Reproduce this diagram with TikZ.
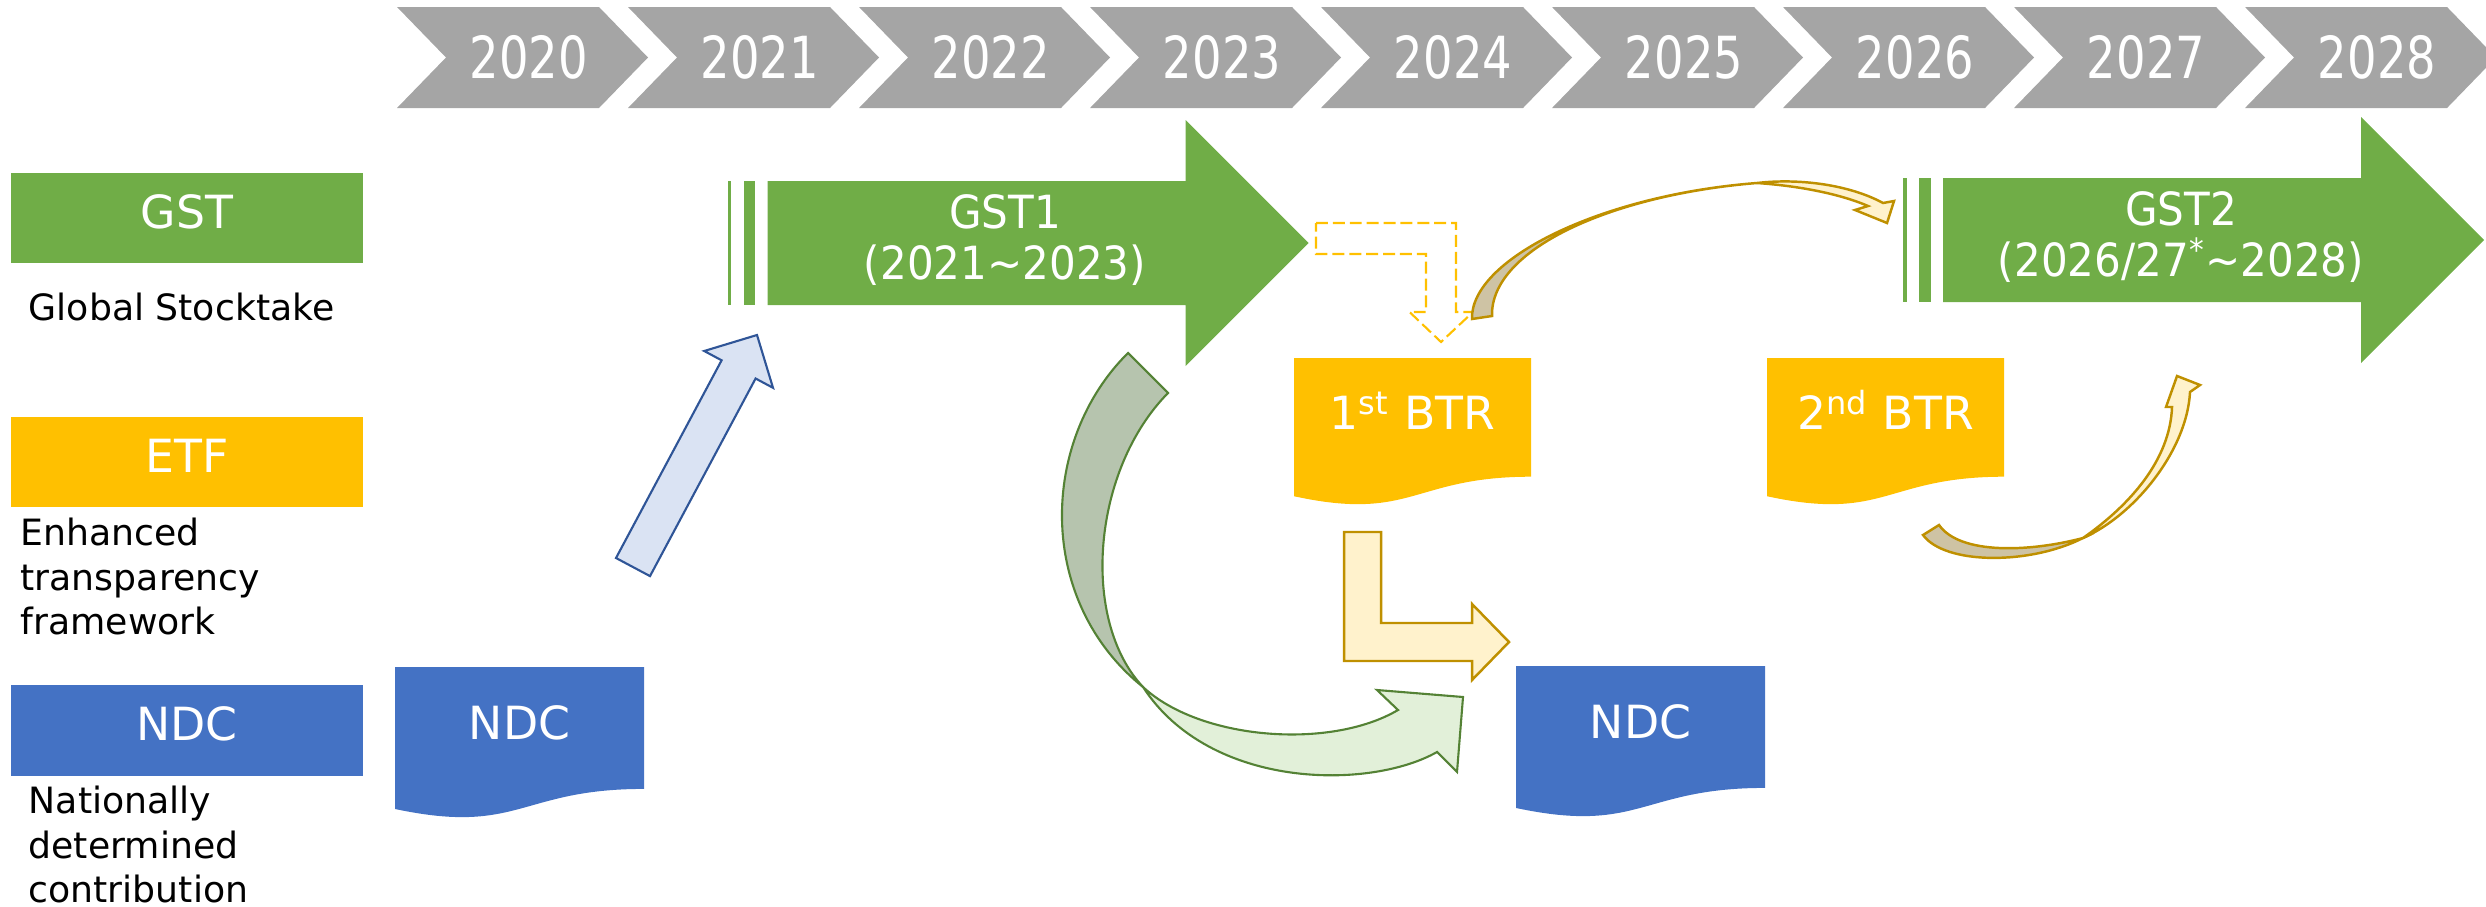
\documentclass[tikz,border=0pt]{standalone}
\usepackage{fontspec}
\setmainfont{DejaVu Sans}
\newfontfamily\yearfont[FakeStretch=0.8]{DejaVu Sans}
\newfontfamily\gstfont[FakeStretch=0.92]{DejaVu Sans}
\usetikzlibrary{calc}
\definecolor{cyear}{HTML}{A5A5A5}
\definecolor{cgst}{HTML}{70AD47}
\definecolor{cetf}{HTML}{FFC000}
\definecolor{cndc}{HTML}{4472C4}
\definecolor{cgline}{HTML}{548235}
\definecolor{cgback}{HTML}{B6C4AE}
\definecolor{cgfront}{HTML}{E2F0D9}
\definecolor{cyline}{HTML}{BF9000}
\definecolor{cyback}{HTML}{CEC3A4}
\definecolor{cyfront}{HTML}{FFF2CC}
\definecolor{cbline}{HTML}{2F5597}
\definecolor{cbfront}{HTML}{DAE3F3}

% document shape: name, colour, x, y, w, h, text
\newcommand\docnode[7]{%
  \fill[#2] (#3,#4) -- ({#3+#5},#4) -- ({#3+#5},{#4+0.802*#6})
    .. controls ({#3+0.5*#5},{#4+0.802*#6}) and ({#3+0.5*#5},{#4+1.108*#6}) .. (#3,{#4+0.934*#6}) -- cycle;
  \node[doclab] (#1) at ({#3+0.5*#5},{#4+0.37*#6}) {#7};
}
% striped block arrow: left stripe x, centre y
\newcommand\gstarrow[2]{%
  \fill[cgst] (#1,{#2-62}) rectangle ({#1+3.6},{#2+62});
  \fill[cgst] ({#1+16},{#2-62}) rectangle ({#1+27.5},{#2+62});
  \fill[cgst] ({#1+40},{#2-62}) -- ({#1+458},{#2-62}) -- ({#1+458},{#2-123})
    -- ({#1+581},#2) -- ({#1+458},{#2+123}) -- ({#1+458},{#2+62}) -- ({#1+40},{#2+62}) -- cycle;
}

\begin{document}
\begin{tikzpicture}[x=0.01cm, y=-0.01cm,
    every node/.style={inner sep=0pt},
    yr/.style={text=white, font=\yearfont\fontsize{16.5}{19}\selectfont},
    cat/.style={text=white, font=\fontsize{13}{15}\selectfont, text height=9.5pt, text depth=3.7pt,
        minimum width=3.52cm, minimum height=0.9cm},
    desc/.style={anchor=north west, align=left, font=\fontsize{10.3}{12.6}\selectfont},
    doclab/.style={text=white, font=\fontsize{13}{15}\selectfont, text height=9.5pt, text depth=0pt},
    gsttxt/.style={text=white, align=center, font=\gstfont\fontsize{13}{14.5}\selectfont},
    barrow/.style={draw=cbline, fill=cbfront, line width=0.6pt},
    larrow/.style={draw=cyline, fill=cyfront, line width=0.7pt},
    dasharr/.style={draw=cetf, dash pattern=on 3.4pt off 1.4pt, line width=0.6pt},
    gback/.style={draw=cgline, fill=cgback, line width=0.6pt},
    gfront/.style={draw=cgline, fill=cgfront, line width=0.6pt},
    yback/.style={draw=cyline, fill=cyback, line width=0.7pt},
    yfront/.style={draw=cyline, fill=cyfront, line width=0.7pt},
]
\useasboundingbox (0,0) rectangle (2486,906);
\clip (0,0) rectangle (2486,906);

% ---------------- years
\foreach \i in {0,...,8}{
    \pgfmathsetmacro\l{397+231*\i}
    \pgfmathtruncatemacro\yr{2020+\i}
    \fill[cyear] (\l,7) -- ({\l+202},7) -- ({\l+251},57.5) -- ({\l+202},108)
        -- (\l,108) -- ({\l+49},57.5) -- cycle;
    \node[yr] (yr\yr) at ({\l+132},57) {\yr};
}

% ---------------- categories
\node[cat, fill=cgst] (gst) at (187,218) {GST};
\node[cat, fill=cetf] (etf) at (187,462) {ETF};
\node[cat, fill=cndc] (ndc) at (187,730.5) {NDC};
\node[desc] (gstdesc) at (28,292.5) {Global Stocktake};
\node[desc] (etfdesc) at (20,517.5) {Enhanced\\transparency\\framework};
\node[desc] (ndcdesc) at (28,785.5) {Nationally\\determined\\contribution};

% ---------------- stocktakes
\gstarrow{727.6}{243}
\gstarrow{1903}{240}
\node[gsttxt] (gst1) at (1005,240.5) {GST1\\(2021\textasciitilde 2023)};
\node[gsttxt] (gst2) at (2181,237) {GST2\\(2026/27\textsuperscript{*}\textasciitilde 2028)};

% ---------------- reports
\docnode{ndcA}{cndc}{395}{667}{249}{152}{NDC}
\docnode{ndcB}{cndc}{1516}{666}{249}{152}{NDC}
\docnode{btrA}{cetf}{1294}{358}{237}{148}{1\textsuperscript{st} BTR}
\docnode{btrB}{cetf}{1767}{358}{237}{148}{2\textsuperscript{nd} BTR}

% ---------------- arrows
\filldraw[barrow] (616,558) -- (721.6,360.3) -- (704.2,351) -- (757,335) -- (773,387.8)
    -- (755.6,378.5) -- (650,576.1) -- cycle;
\draw[dasharr] (1316,223) -- (1456,223) -- (1456,312) -- (1473,312) -- (1441,342)
    -- (1409.5,312) -- (1426,312) -- (1426,254) -- (1316,254) -- cycle;
\filldraw[larrow] (1344,532) -- (1381,532) -- (1381,623) -- (1472,623) -- (1472,604)
    -- (1509,642) -- (1472,680) -- (1472,661) -- (1344,661) -- cycle;

% green loop, back then front
\filldraw[gback] (1128,353) .. controls (1040,440) and (1035,600) .. (1143,687)
    .. controls (1080,620) and (1092,470) .. (1168,393) -- cycle;
\filldraw[gfront] (1143,687) .. controls (1200,740) and (1330,750) .. (1398,710)
    -- (1377,690) -- (1463,697) -- (1457,772) -- (1437,752)
    .. controls (1370,790) and (1210,790) .. (1143,687) -- cycle;

% long yellow arc
\filldraw[yback] (1472,319) .. controls (1470,260) and (1600,195) .. (1757,183)
    .. controls (1610,195) and (1490,250) .. (1492,316) -- cycle;
\filldraw[yfront] (1757,183) .. controls (1800,178) and (1850,185) .. (1883,203)
    -- (1894,201) -- (1887,223) -- (1855,210) -- (1868,206)
    .. controls (1840,194) and (1800,186) .. (1757,183) -- cycle;

% short yellow arc
\filldraw[yback] (1923,535) .. controls (1945,565) and (2030,565) .. (2083,538)
    .. controls (2030,552) and (1960,555) .. (1939,525) -- cycle;
\filldraw[yfront] (2083,538) .. controls (2130,505) and (2170,460) .. (2172,407)
    -- (2166,407) -- (2177,376) -- (2200,385) -- (2190,392)
    .. controls (2187,450) and (2135,515) .. (2083,538) -- cycle;

\end{tikzpicture}
\end{document}
